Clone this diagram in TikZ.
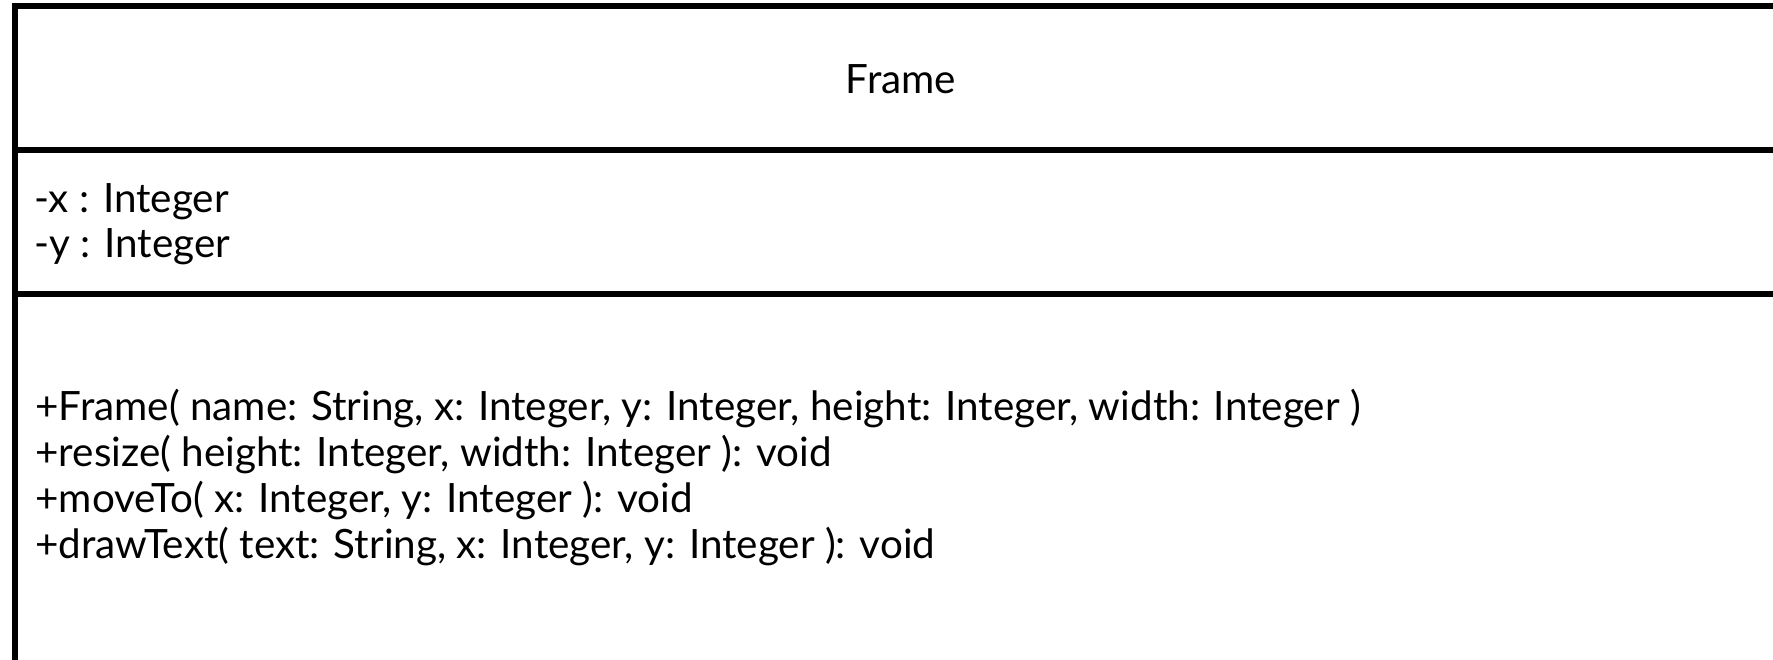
\documentclass[tikz,border=0pt]{standalone}
\usepackage{fontspec}
\setmainfont{Lato}
\usepackage{tikz}
\usetikzlibrary{positioning}

\begin{document}
\begin{tikzpicture}[
        x=0.5pt, y=-0.5pt,
        frameline/.style={line width=3pt, draw=black},
        title/.style={anchor=base, inner sep=0pt, font=\fontsize{20.2}{24}\selectfont},
        member/.style={anchor=base west, inner sep=0pt, font=\fontsize{20.2}{24}\selectfont}
    ]
    \useasboundingbox (0,0) rectangle (1773,659);
    \clip (0,0) rectangle (1773,659);

    % Class box and compartments
    \coordinate (tl) at (14.5,6);
    \coordinate (br) at (1788,720);
    \draw[frameline] (tl) rectangle (br);
    \coordinate (s1) at (14.5,150);
    \coordinate (s2) at (14.5,294);
    \draw[frameline] (s1) -- (s1 -| br);
    \draw[frameline] (s2) -- (s2 -| br);

    % Name
    \node[title] (name) at (901,93) {Frame};

    % Attributes
    \node[member] (attrx) at (34,212) {-x : Integer};
    \node[member] (attry) at (34,257) {-y : Integer};

    % Operations
    \node[member] (ctor) at (35,420) {+Frame( name: String, x: Integer, y: Integer, height: Integer, width: Integer )};
    \node[member] (resize) at (35,466) {+resize( height: Integer, width: Integer ): void};
    \node[member] (move) at (35,512) {+moveTo( x: Integer, y: Integer ): void};
    \node[member] (text) at (35,558) {+drawText( text: String, x: Integer, y: Integer ): void};

\end{tikzpicture}
\end{document}
